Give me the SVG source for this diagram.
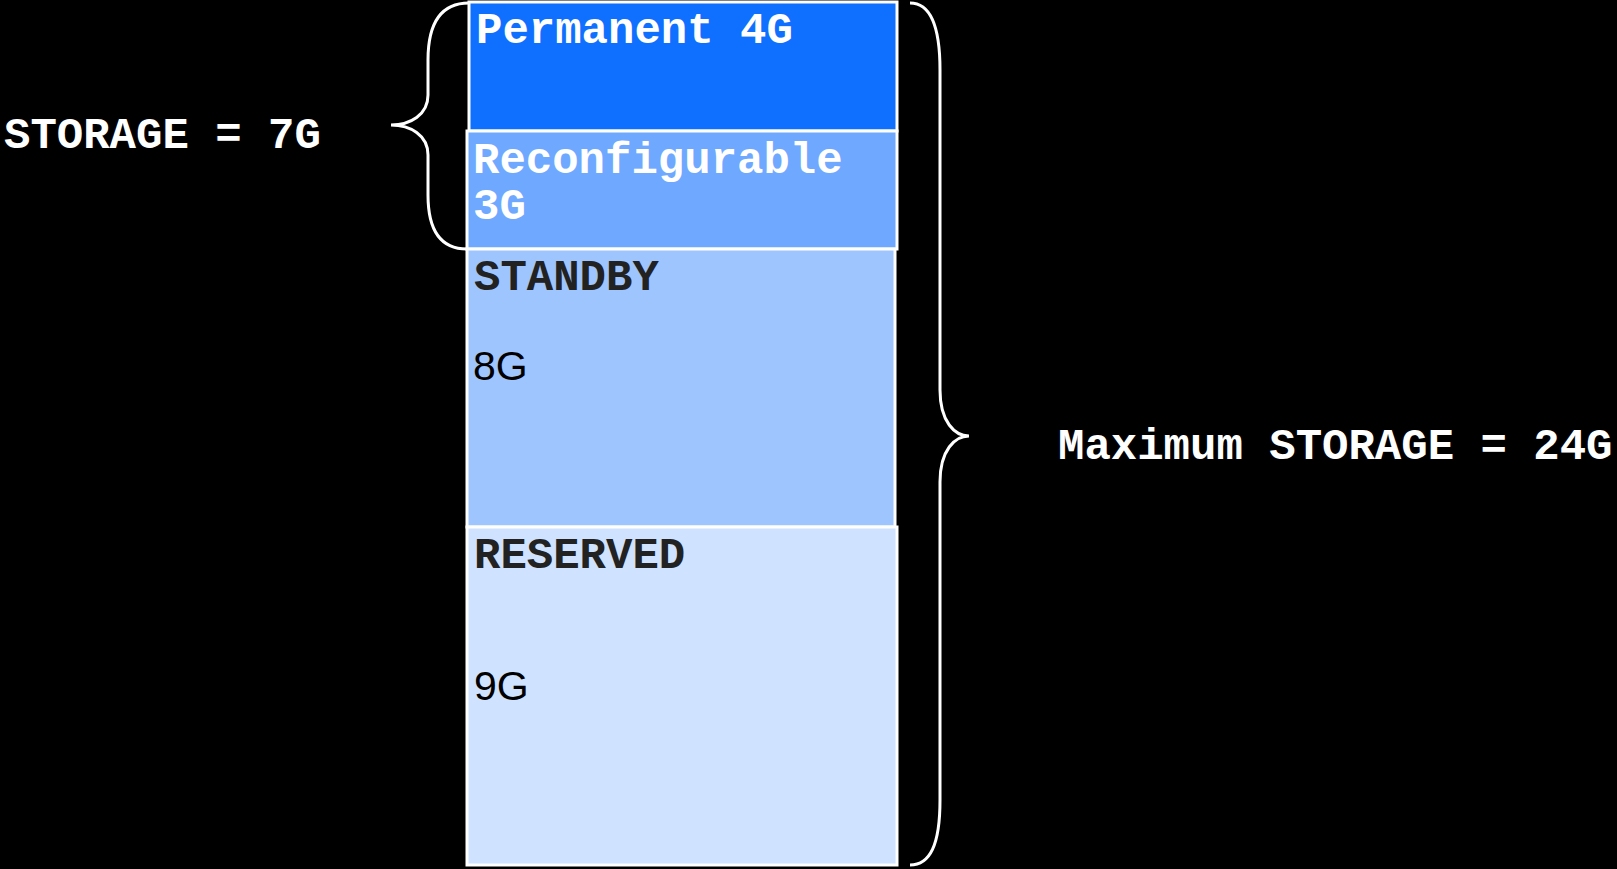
<svg xmlns="http://www.w3.org/2000/svg" width="1617" height="869" viewBox="0 0 1617 869">
<style>
.box{stroke:#ffffff;stroke-width:3}
.mono{font-family:"Liberation Mono","Courier New",monospace;font-weight:bold;font-size:44px}
.sans{font-family:"Liberation Sans",Arial,sans-serif;font-size:41px;fill:#000000}
.brace{fill:none;stroke:#ffffff;stroke-width:3}
</style>
<rect width="1617" height="869" fill="#000000"/>
<g id="permanent">
<rect class="box" x="469" y="2" width="428" height="129" fill="#0f70ff"/>
<text class="mono" x="476" y="43" fill="#ffffff">Permanent 4G</text>
</g>
<g id="reconfigurable">
<rect class="box" x="467" y="131" width="430" height="118" fill="#6ea8ff"/>
<text class="mono" x="473" y="173" fill="#ffffff">Reconfigurable</text>
<text class="mono" x="473" y="219" fill="#ffffff">3G</text>
</g>
<g id="standby">
<rect class="box" x="467" y="249" width="428" height="278" fill="#9ec5fe"/>
<text class="mono" x="474" y="290" fill="#222222">STANDBY</text>
<text class="sans" x="473" y="380">8G</text>
</g>
<g id="reserved">
<rect class="box" x="467" y="527" width="430" height="338" fill="#cfe2ff"/>
<text class="mono" x="474" y="568" fill="#222222">RESERVED</text>
<text class="sans" x="474" y="700">9G</text>
</g>
<g id="connectors">
<path class="brace" d="M 469 3 C 440 3, 428 25, 428 60 L 428 95 C 428 115, 410 125, 391 125 C 410 125, 428 135, 428 155 L 428 195 C 428 230, 440 249, 467 249"/>
<path class="brace" d="M 910 3 C 930 3, 940 25, 940 70 L 940 390 C 940 422, 955 436, 969 436 C 955 436, 940 450, 940 482 L 940 800 C 940 845, 930 865, 910 865"/>
</g>
<g id="label-storage">
<text class="mono" x="4" y="148" fill="#ffffff">STORAGE = 7G</text>
</g>
<g id="label-max">
<text class="mono" x="1058" y="459" fill="#ffffff">Maximum STORAGE = 24G</text>
</g>
</svg>
